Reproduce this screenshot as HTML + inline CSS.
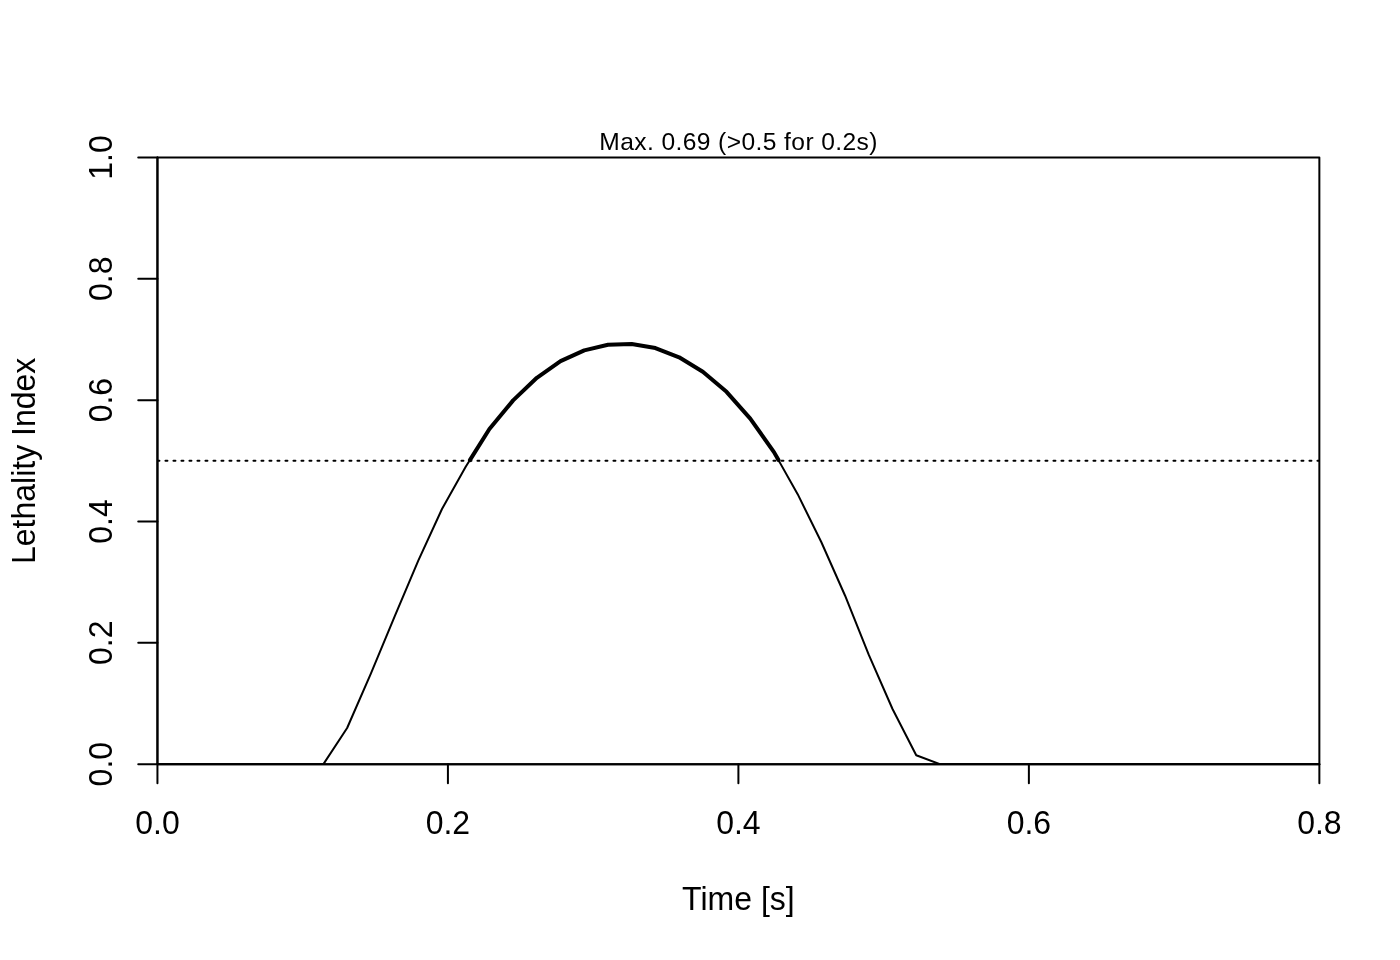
<!DOCTYPE html>
<html lang="en">
<head>
<meta charset="utf-8">
<title>Lethality Index</title>
<style>
html,body{margin:0;padding:0;background:#fff;}
body{width:1400px;height:960px;overflow:hidden;}
svg{display:block;}
text{font-family:"Liberation Sans",Arial,Helvetica,sans-serif;fill:#000;}
.ln{fill:none;stroke:#000;stroke-width:2;stroke-linecap:round;stroke-linejoin:round;}
</style>
</head>
<body>
<svg width="1400" height="960" viewBox="0 0 1400 960">
<rect x="0" y="0" width="1400" height="960" fill="#ffffff"/>
<defs><clipPath id="plot"><rect x="157.44" y="157.44" width="1161.92" height="606.72"/></clipPath></defs>
<polyline class="ln" clip-path="url(#plot)" points="157.44,764.16 181.15,764.16 204.87,764.16 228.58,764.16 252.29,764.16 276.00,764.16 299.72,764.16 323.43,764.16 347.14,728.00 370.85,673.58 394.57,616.73 418.28,560.61 441.99,508.97 465.70,466.81 489.42,429.01 513.13,400.37 536.84,377.80 560.56,361.18 584.27,350.38 607.98,344.80 631.69,344.01 655.41,348.07 679.12,357.29 702.83,371.73 726.54,391.82 750.26,418.63 773.97,452.12 797.68,494.17 821.39,542.28 845.11,595.73 868.82,654.89 892.53,709.01 916.24,755.30 939.96,764.16 963.67,764.16 987.38,764.16 1011.10,764.16 1034.81,764.16 1058.52,764.16 1082.23,764.16 1105.95,764.16 1129.66,764.16 1153.37,764.16 1177.08,764.16 1200.80,764.16 1224.51,764.16 1248.22,764.16 1271.93,764.16 1295.65,764.16 1319.36,764.16"/>
<line class="ln" x1="157.44" y1="764.16" x2="1319.36" y2="764.16"/>
<line class="ln" x1="157.44" y1="764.16" x2="157.44" y2="783.36"/>
<line class="ln" x1="447.92" y1="764.16" x2="447.92" y2="783.36"/>
<line class="ln" x1="738.40" y1="764.16" x2="738.40" y2="783.36"/>
<line class="ln" x1="1028.88" y1="764.16" x2="1028.88" y2="783.36"/>
<line class="ln" x1="1319.36" y1="764.16" x2="1319.36" y2="783.36"/>
<text transform="translate(157.44,833.78) scale(1,1.04)" font-size="32" text-anchor="middle">0.0</text>
<text transform="translate(447.92,833.78) scale(1,1.04)" font-size="32" text-anchor="middle">0.2</text>
<text transform="translate(738.40,833.78) scale(1,1.04)" font-size="32" text-anchor="middle">0.4</text>
<text transform="translate(1028.88,833.78) scale(1,1.04)" font-size="32" text-anchor="middle">0.6</text>
<text transform="translate(1319.36,833.78) scale(1,1.04)" font-size="32" text-anchor="middle">0.8</text>
<line class="ln" x1="157.44" y1="764.16" x2="157.44" y2="157.44"/>
<line class="ln" x1="157.44" y1="764.16" x2="138.24" y2="764.16"/>
<line class="ln" x1="157.44" y1="642.82" x2="138.24" y2="642.82"/>
<line class="ln" x1="157.44" y1="521.47" x2="138.24" y2="521.47"/>
<line class="ln" x1="157.44" y1="400.13" x2="138.24" y2="400.13"/>
<line class="ln" x1="157.44" y1="278.78" x2="138.24" y2="278.78"/>
<line class="ln" x1="157.44" y1="157.44" x2="138.24" y2="157.44"/>
<text transform="translate(111.86,764.16) rotate(-90) scale(1,1.04)" font-size="32" text-anchor="middle">0.0</text>
<text transform="translate(111.86,642.82) rotate(-90) scale(1,1.04)" font-size="32" text-anchor="middle">0.2</text>
<text transform="translate(111.86,521.47) rotate(-90) scale(1,1.04)" font-size="32" text-anchor="middle">0.4</text>
<text transform="translate(111.86,400.13) rotate(-90) scale(1,1.04)" font-size="32" text-anchor="middle">0.6</text>
<text transform="translate(111.86,278.78) rotate(-90) scale(1,1.04)" font-size="32" text-anchor="middle">0.8</text>
<text transform="translate(111.86,157.44) rotate(-90) scale(1,1.04)" font-size="32" text-anchor="middle">1.0</text>
<rect class="ln" x="157.44" y="157.44" width="1161.92" height="606.72"/>
<text transform="translate(738.40,910.08) scale(1,1.01)" font-size="32" text-anchor="middle">Time [s]</text>
<text transform="translate(34.56,460.80) rotate(-90) scale(1,1.01)" font-size="32" text-anchor="middle">Lethality Index</text>
<line class="ln" clip-path="url(#plot)" stroke-dasharray="2 6" x1="157.44" y1="460.80" x2="1319.36" y2="460.80"/>
<polyline class="ln" clip-path="url(#plot)" style="stroke-width:4" points="469.90,460.12 489.42,429.01 513.13,400.37 536.84,377.80 560.56,361.18 584.27,350.38 607.98,344.80 631.69,344.01 655.41,348.07 679.12,357.29 702.83,371.73 726.54,391.82 750.26,418.63 773.97,452.12 778.47,460.10"/>
<text transform="translate(738.60,150.00) scale(1,1)" font-size="24.6" letter-spacing="0.4" text-anchor="middle">Max. 0.69 (&gt;0.5 for 0.2s)</text>
</svg>
</body>
</html>
